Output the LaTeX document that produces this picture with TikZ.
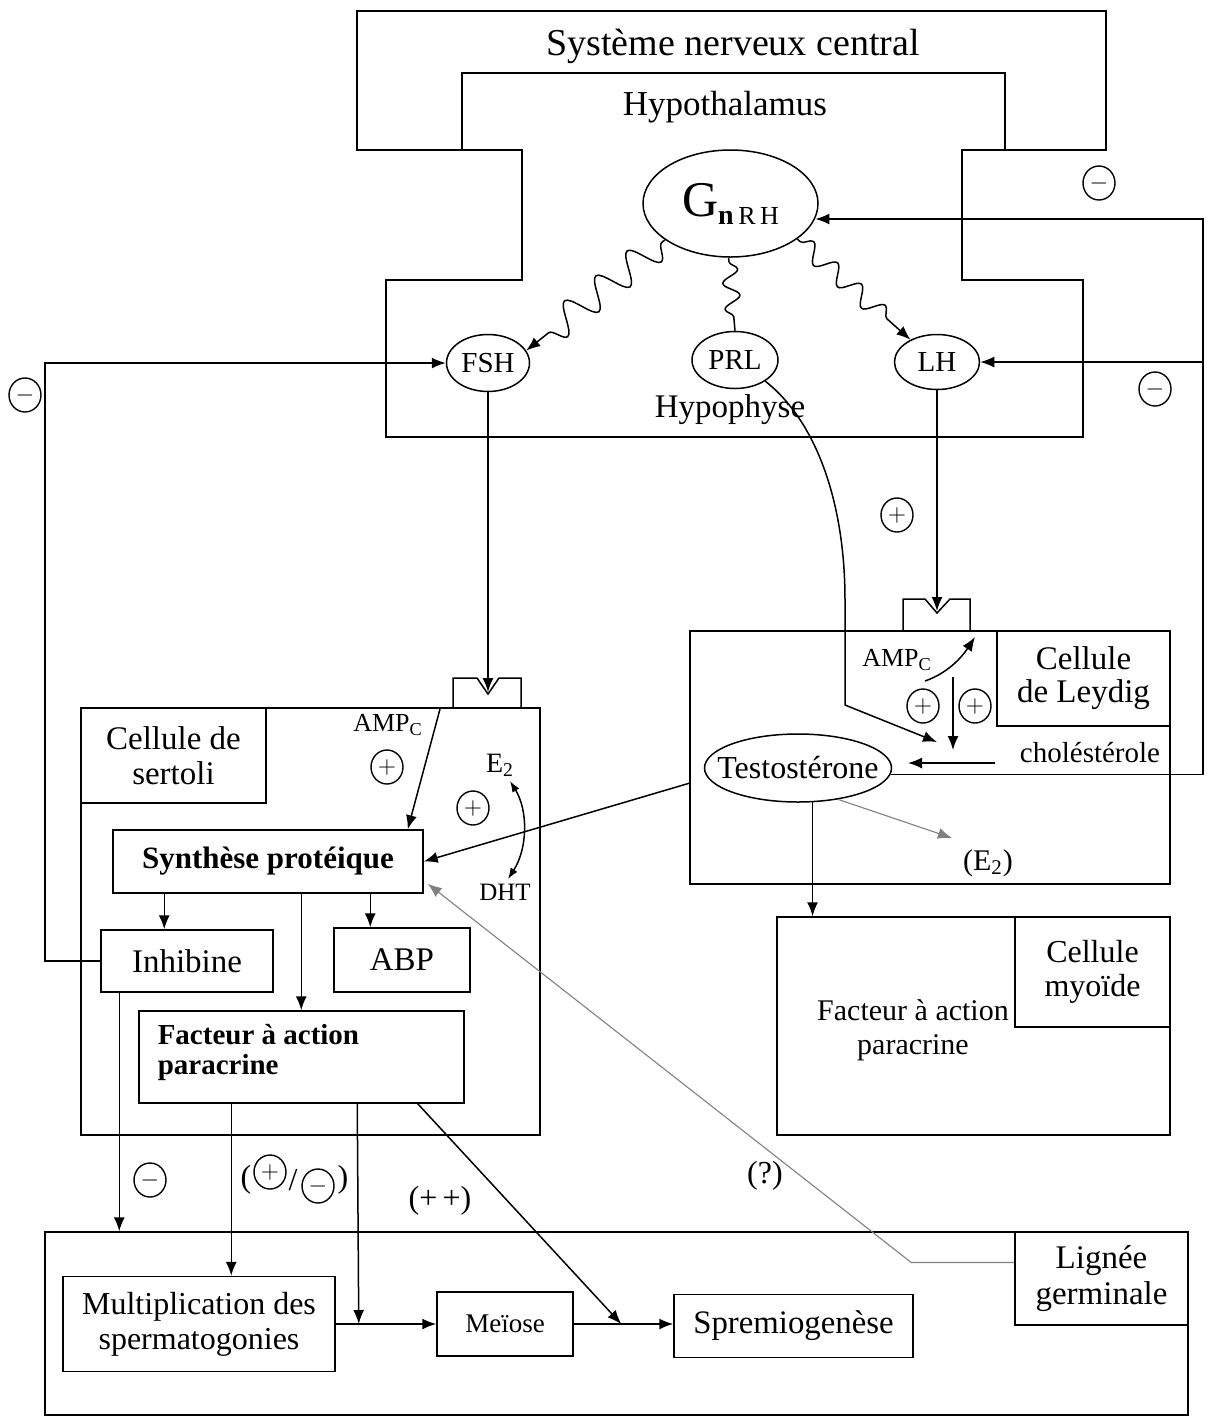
\documentclass[tikz,border=0pt]{standalone}
\usepackage{fontspec}
\setmainfont{Liberation Serif}
\usetikzlibrary{arrows.meta,decorations.pathmorphing,shapes.geometric,calc}
\newcommand{\fsz}[2]{\fontsize{#1}{#2}\selectfont}
\begin{document}
\begin{tikzpicture}[x=0.5pt,y=-0.5pt,line width=0.75pt,
  every node/.style={inner sep=0pt},
  rbox/.style={draw,rectangle,align=center},
  oval/.style={draw,ellipse,inner sep=0pt},
  arr/.style={-{Latex[length=7pt,width=5.5pt]}},
  dblarr/.style={{Latex[length=5.5pt,width=4pt]}-{Latex[length=5.5pt,width=4pt]}},
  sgn/.style={draw,ellipse,minimum width=16pt,minimum height=17pt,inner sep=0pt,line width=0.7pt,font=\fsz{13}{13}},
  faint/.style={draw=black!50,line width=0.55pt},
  lab/.style={font=\fsz{16}{18},align=center}]
\useasboundingbox (0,0) rectangle (1210,1420);

% ---- central nervous system / hypothalamus / pituitary frames
\draw (357,150) -- (357,11) -- (1106,11) -- (1106,150) -- (962,150) -- (962,280)
      -- (1083,280) -- (1083,437) -- (386,437) -- (386,280) -- (522,280) -- (522,150) -- cycle;
\draw (462,150) -- (462,73) -- (1005,73) -- (1005,150);
\node[font=\fsz{19}{21}] (snc) at (733,46) {Système nerveux central};
\node[font=\fsz{17.5}{20}] (hyt) at (725,107) {Hypothalamus};
\node[font=\fsz{16.5}{19}] (hyp) at (730,410) {Hypophyse};

% ---- hormones
\node[oval,minimum width=87.5pt,minimum height=53.5pt] (gnrh) at (730.5,203.5)
  {\fsz{25}{25}G\raisebox{-4pt}{\fsz{14}{14}\textbf{n}\,\fsz{13}{13}R\,H}};
\node[oval,minimum width=41.5pt,minimum height=28.5pt,font=\fsz{14.5}{16}] (fsh) at (488,363) {FSH};
\node[oval,minimum width=43pt,minimum height=28.5pt,font=\fsz{14.5}{16}] (prl) at (735,360) {PRL};
\node[oval,minimum width=42.5pt,minimum height=27.5pt,font=\fsz{14.5}{16}] (lh) at (937,362) {LH};

\draw[arr,decorate,decoration={snake,amplitude=7.5pt,segment length=20pt,pre length=2pt,post length=9pt}]
  (gnrh.209) -- (fsh.18);
\draw[decorate,decoration={snake,amplitude=4pt,segment length=13pt,pre length=2pt,post length=3pt}]
  (gnrh.268) -- (prl.north);
\draw[arr,decorate,decoration={snake,amplitude=4.5pt,segment length=16pt,pre length=2pt,post length=9pt}]
  (gnrh.-28) -- (lh.140);

% ---- Leydig cell
\node[rbox,minimum width=240pt,minimum height=126.5pt] (leydig) at (930,757.5) {};
\node[rbox,minimum width=86.5pt,minimum height=47.5pt,font=\fsz{16.5}{16.5}] (leydigL) at (1083.5,678.5) {Cellule\\de Leydig};
\draw (903,631) -- (903,599) -- (925,599) -- (937,613) -- (950,599) -- (970,599) -- (970,631);
\coordinate (rL) at (937,611);
\draw[arr] (lh.south) -- (rL);
\node[sgn] (pLH) at (897,515) {$+$};

\node[oval,minimum width=93.5pt,minimum height=34pt,inner xsep=-12pt,font=\fsz{16}{16}] (testo) at (798,768) {Testostérone};
\node[font=\fsz{14.5}{14.5}] (chol) at (1090,753) {choléstérole};
\coordinate (cholS) at (995,763);
\coordinate (cholE) at (908,763);
\draw[arr] (cholS) -- (cholE);
\node[font=\fsz{13}{13}] (ampL) at (897,660) {AMP\textsubscript{C}};
\coordinate (aL1) at (925,681);
\coordinate (aL2) at (975,637);
\draw[arr] (aL1) .. controls (948,673) and (962,657) .. (aL2);
\coordinate (vL1) at (953,677);
\coordinate (vL2) at (953,750);
\draw[arr] (vL1) -- (vL2);
\node[sgn] (pL1) at (923,706) {$+$};
\node[sgn] (pL2) at (975,706) {$+$};
\coordinate (prlT) at (937,742);
\draw[arr] (prl.-35) .. controls (815,420) and (845,500) .. (845,600) -- (845,705) -- (prlT);
\draw[arr,faint] (testo.-38) -- (952,838);
\node[font=\fsz{15}{15}] (e2L) at (988,863) {(E\textsubscript{2})};

% ---- feedback on the right
\coordinate (fbR) at (1203,219);
\draw[arr] (testo.-4) -- (testo.-4 -| fbR) -- (fbR) -- (fbR -| gnrh.-10.5);
\draw[arr] (fbR |- lh.east) -- (lh.east);
\node[sgn] (m1) at (1099,183) {$-$};
\node[sgn] (m2) at (1155,389) {$-$};

% ---- myoid cell
\node[rbox,minimum width=196.5pt,minimum height=109pt] (myoid) at (973.5,1026) {};
\node[rbox,minimum width=77.5pt,minimum height=55pt,font=\fsz{16}{17}] (myoidL) at (1092.5,972) {Cellule\\myoïde};
\node[font=\fsz{15}{17},align=center] (myoidT) at (913,1030) {Facteur à action\\paracrine};
\draw[arr] (testo.-67) -- (testo.-67 |- myoid.north);

% ---- Sertoli cell
\node[rbox,minimum width=229.5pt,minimum height=213.5pt] (sertoli) at (310.5,921.5) {};
\node[rbox,minimum width=92.5pt,minimum height=47.5pt,font=\fsz{16.5}{17.5}] (sertoliL) at (173.5,755.5) {Cellule de\\sertoli};
\draw (453,708) -- (453,678) -- (477,678) -- (488,694) -- (499,678) -- (521,678) -- (521,708);
\coordinate (rS) at (488,692);
\draw[arr] (fsh.south) -- (rS);

\node[rbox,minimum width=155pt,minimum height=31.5pt,font=\bfseries\fsz{15.5}{15.5}] (synth) at (268,861.5) {Synthèse protéique};
\node[rbox,minimum width=86pt,minimum height=31pt,font=\fsz{16.5}{16.5}] (inhib) at (187,961) {Inhibine};
\node[rbox,minimum width=68pt,minimum height=32pt,font=\fsz{16.5}{16.5}] (abp) at (402,960) {ABP};
\node[rbox,minimum width=162.5pt,minimum height=46pt] (facteur) at (301.5,1057) {};
\node[anchor=west,align=left,font=\bfseries\fsz{14.5}{15}] (facT) at (157,1052) {Facteur à action\\paracrine};

\node[font=\fsz{13}{13}] (ampS) at (388,725) {AMP\textsubscript{C}};
\coordinate (aS) at (440,709);
\draw[arr] (aS) -- ($(synth.north east)+(-16,0)$);
\node[sgn] (pS1) at (387,767) {$+$};
\node[sgn] (pS2) at (473,808) {$+$};
\node[font=\fsz{14}{14}] (e2) at (500,765) {E\textsubscript{2}};
\node[font=\fsz{12.5}{12.5}] (dht) at (505,892) {DHT};
\draw[dblarr] ($(e2.south)+(10,4)$) .. controls (528,810) and (528,848) .. ($(dht.north)+(3,-4)$);

\coordinate (lw) at (690,783);
\draw[arr] (lw) -- (synth.east);

\draw[arr] ($(synth.south west)+(52,0)$) -- ($(inhib.north west)+(64,0)$);
\draw[arr] ($(synth.south west)+(189,0)$) -- ($(facteur.north west)+(163,0)$);
\draw[arr] ($(synth.south west)+(258,0)$) -- ($(abp.north west)+(37,0)$);

% ---- feedback on the left (inhibine)
\coordinate (fbL) at (45,363);
\draw[arr] (inhib.west) -| (fbL) -- (fsh.west);
\node[sgn] (m3) at (25,395) {$-$};

% ---- germinal line
\node[rbox,minimum width=571.5pt,minimum height=91.5pt] (bottom) at (616.5,1323.5) {};
\node[rbox,minimum width=86.5pt,minimum height=46.5pt,font=\fsz{16.5}{18}] (lignee) at (1101.5,1278.5) {Lignée\\germinale};
\node[rbox,minimum width=136pt,minimum height=47.5pt,font=\fsz{16}{17.5}] (multi) at (199,1324) {Multiplication des\\spermatogonies};
\node[rbox,minimum width=68pt,minimum height=32pt,font=\fsz{13.5}{13.5}] (meiose) at (505,1324) {Meïose};
\node[rbox,minimum width=119.5pt,minimum height=31.5pt,font=\fsz{16.4}{16.4}] (sperm) at (793.5,1326) {Spremiogenèse};
\draw[arr] (multi.east) -- (meiose.west |- multi.east);
\draw[arr] (meiose.east |- multi.east) -- (sperm.west |- multi.east);

\draw[arr] ($(inhib.south west)+(19,0)$) -- ($(bottom.north west)+(75,0)$);
\draw[arr] ($(facteur.south west)+(93,0)$) -- ($(multi.north west)+(169,0)$);
\draw[arr] ($(facteur.south west)+(219,0)$) -- ($(multi.east)+(23,0)$);
\draw[arr] ($(facteur.south east)+(-47,0)$) -- ($(sperm.west |- multi.east)+(-52,0)$);
\draw[arr,faint] ($(lignee.west)+(0,-16)$) -- ++(-103,0) -- ($(synth.south east)+(4,-10)$);

\node[sgn] (m4) at (150,1180) {$-$};
\node[font=\fsz{16}{16}] (po) at (246,1180) {(};
\node[sgn] (pm1) at (270,1172) {$+$};
\node[font=\fsz{16}{16}] (sl) at (293,1180) {/};
\node[sgn] (pm2) at (318,1186) {$-$};
\node[font=\fsz{16}{16}] (pc) at (343,1180) {)};
\node[lab] (pp) at (440,1201) {(+\,+)};
\node[lab] (q) at (765,1176) {(?)};
\end{tikzpicture}
\end{document}
